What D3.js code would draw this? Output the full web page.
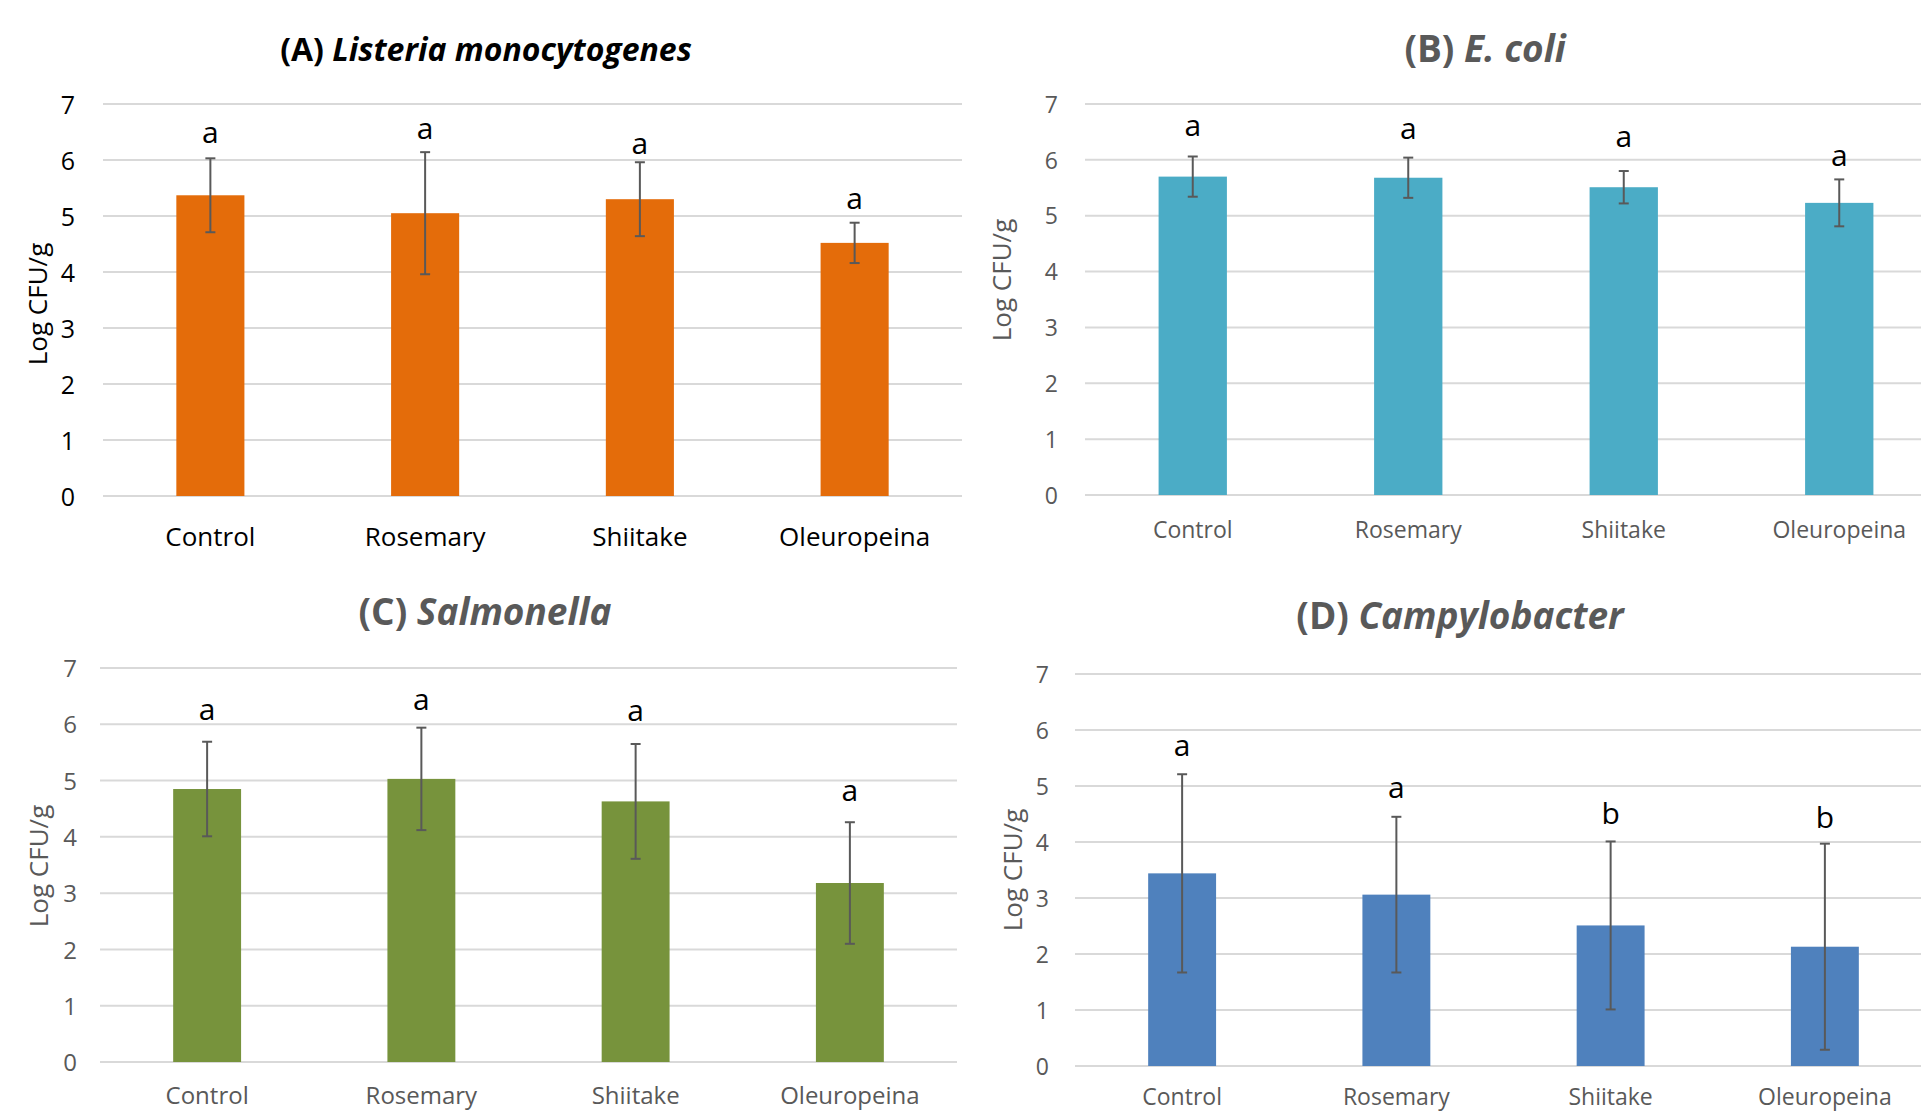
<!DOCTYPE html>
<html>
<head>
<meta charset="utf-8">
<script src="https://cdn.jsdelivr.net/npm/d3@7"></script>
<style>
  html, body { margin: 0; padding: 0; background: #fff; }
  svg { display: block; font-family: "Open Sans", "DejaVu Sans", sans-serif; }
</style>
</head>
<body>
<svg id="chart" width="1921" height="1112"></svg>
<script>
// ---------- data ----------
const categories = ["Control", "Rosemary", "Shiitake", "Oleuropeina"];
const yTicks = [0, 1, 2, 3, 4, 5, 6, 7];

const listeriaMean = [5.37, 5.05, 5.30, 4.52];
const listeriaErr = [0.66, 1.09, 0.66, 0.36];
const listeriaLetters = ["a", "a", "a", "a"];
const listeriaLetterY = [6.31, 6.38, 6.11, 5.12];

const ecoliMean = [5.70, 5.68, 5.51, 5.23];
const ecoliErr = [0.36, 0.36, 0.29, 0.42];
const ecoliLetters = ["a", "a", "a", "a"];
const ecoliLetterY = [6.43, 6.38, 6.23, 5.89];

const salmonellaMean = [4.85, 5.03, 4.63, 3.18];
const salmonellaErr = [0.84, 0.91, 1.02, 1.08];
const salmonellaLetters = ["a", "a", "a", "a"];
const salmonellaLetterY = [6.08, 6.26, 6.05, 4.64];

const campyMean = [3.44, 3.06, 2.51, 2.13];
const campyErr = [1.77, 1.39, 1.50, 1.84];
const campyLetters = ["a", "a", "b", "b"];
const campyLetterY = [5.54, 4.79, 4.32, 4.25];

// ---------- panel layout ----------
const panels = [
  { label: "(A) ", species: "Listeria monocytogenes", means: listeriaMean, errs: listeriaErr,
    letters: listeriaLetters, letterY: listeriaLetterY, color: "#E46C0A",
    x0: 103, x1: 962, y0: 496, y7: 104, titleX: 486, titleY: 61, titleSize: 32, titleColor: "#000",
    tickX: 75, tickSize: 25, textColor: "#000", axisTitleX: 38, axisTitleY: 304,
    xLabelY: 546, xLabelSize: 26 },
  { label: "(B) ", species: "E. coli", means: ecoliMean, errs: ecoliErr,
    letters: ecoliLetters, letterY: ecoliLetterY, color: "#4BACC6",
    x0: 1085, x1: 1947, y0: 495, y7: 104, titleX: 1485, titleY: 62, titleSize: 37, titleColor: "#595959",
    tickX: 1058, tickSize: 23, textColor: "#595959", axisTitleX: 1002, axisTitleY: 280,
    xLabelY: 538, xLabelSize: 23 },
  { label: "(C) ", species: "Salmonella", means: salmonellaMean, errs: salmonellaErr,
    letters: salmonellaLetters, letterY: salmonellaLetterY, color: "#77933C",
    x0: 100, x1: 957, y0: 1062, y7: 668, titleX: 485, titleY: 625, titleSize: 37, titleColor: "#595959",
    tickX: 77, tickSize: 24, textColor: "#595959", axisTitleX: 39, axisTitleY: 866,
    xLabelY: 1104, xLabelSize: 24 },
  { label: "(D) ", species: "Campylobacter", means: campyMean, errs: campyErr,
    letters: campyLetters, letterY: campyLetterY, color: "#4F81BD",
    x0: 1075, x1: 1932, y0: 1066, y7: 674, titleX: 1460, titleY: 629, titleSize: 37, titleColor: "#595959",
    tickX: 1049, tickSize: 23, textColor: "#595959", axisTitleX: 1013, axisTitleY: 870,
    xLabelY: 1105, xLabelSize: 23 }
];

const svg = d3.select("#chart");
svg.append("rect").attr("width", 1921).attr("height", 1112).attr("fill", "#fff");

const gap = 0.683; // Excel-like gap width

panels.forEach(p => {
  const g = svg.append("g");
  const data = categories.map((c, i) => ({ cat: c, mean: p.means[i], err: p.errs[i],
    letter: p.letters[i], ly: p.letterY[i] }));

  const x = d3.scaleBand().domain(categories).range([p.x0, p.x1])
    .paddingInner(gap).paddingOuter(gap / 2);
  const y = d3.scaleLinear().domain([0, 7]).range([p.y0, p.y7]);

  // gridlines
  g.append("g").selectAll("line").data(yTicks).join("line")
    .attr("x1", p.x0).attr("x2", p.x1)
    .attr("y1", d => y(d)).attr("y2", d => y(d))
    .attr("stroke", "#d9d9d9").attr("stroke-width", 2);

  // y tick labels via axis
  const yAxis = g.append("g").attr("transform", `translate(${p.tickX},0)`)
    .call(d3.axisLeft(y).tickValues(yTicks).tickSize(0).tickPadding(0).tickFormat(d3.format("d")));
  yAxis.select(".domain").remove();
  yAxis.selectAll("text").attr("fill", p.textColor).attr("font-size", p.tickSize)
    .attr("font-family", "Open Sans").attr("dy", "0.36em");

  // x labels via axis
  const xAxis = g.append("g").attr("transform", `translate(0,${p.xLabelY})`)
    .call(d3.axisBottom(x).tickSize(0).tickPadding(0));
  xAxis.select(".domain").remove();
  xAxis.selectAll("text").attr("fill", p.textColor).attr("font-size", p.xLabelSize)
    .attr("font-family", "Open Sans").attr("y", 0).attr("dy", 0);

  // bars
  g.append("g").selectAll("rect").data(data).join("rect")
    .attr("x", d => x(d.cat)).attr("width", x.bandwidth())
    .attr("y", d => y(d.mean)).attr("height", d => y(0) - y(d.mean))
    .attr("fill", p.color);

  // error bars
  const eb = g.append("g").attr("stroke", "#595959").attr("stroke-width", 2).attr("fill", "none");
  const cx = d => x(d.cat) + x.bandwidth() / 2;
  eb.selectAll("line.v").data(data).join("line").attr("class", "v")
    .attr("x1", cx).attr("x2", cx)
    .attr("y1", d => y(d.mean + d.err)).attr("y2", d => y(d.mean - d.err));
  eb.selectAll("line.t").data(data).join("line").attr("class", "t")
    .attr("x1", d => cx(d) - 5).attr("x2", d => cx(d) + 5)
    .attr("y1", d => y(d.mean + d.err)).attr("y2", d => y(d.mean + d.err));
  eb.selectAll("line.b").data(data).join("line").attr("class", "b")
    .attr("x1", d => cx(d) - 5).attr("x2", d => cx(d) + 5)
    .attr("y1", d => y(d.mean - d.err)).attr("y2", d => y(d.mean - d.err));

  // significance letters
  g.append("g").selectAll("text").data(data).join("text")
    .attr("x", cx).attr("y", d => y(d.ly))
    .attr("text-anchor", "middle").attr("font-size", 30).attr("fill", "#000")
    .text(d => d.letter);

  // axis title
  g.append("text")
    .attr("transform", `translate(${p.axisTitleX},${p.axisTitleY}) rotate(-90)`)
    .attr("text-anchor", "middle").attr("dy", "0.35em")
    .attr("font-size", 26).attr("fill", p.textColor)
    .text("Log CFU/g");

  // title
  const t = g.append("text").attr("x", p.titleX).attr("y", p.titleY)
    .attr("text-anchor", "middle").attr("font-size", p.titleSize)
    .attr("font-weight", "bold").attr("fill", p.titleColor);
  t.append("tspan").text(p.label);
  t.append("tspan").attr("font-style", "italic").text(p.species);
});
</script>
</body>
</html>
